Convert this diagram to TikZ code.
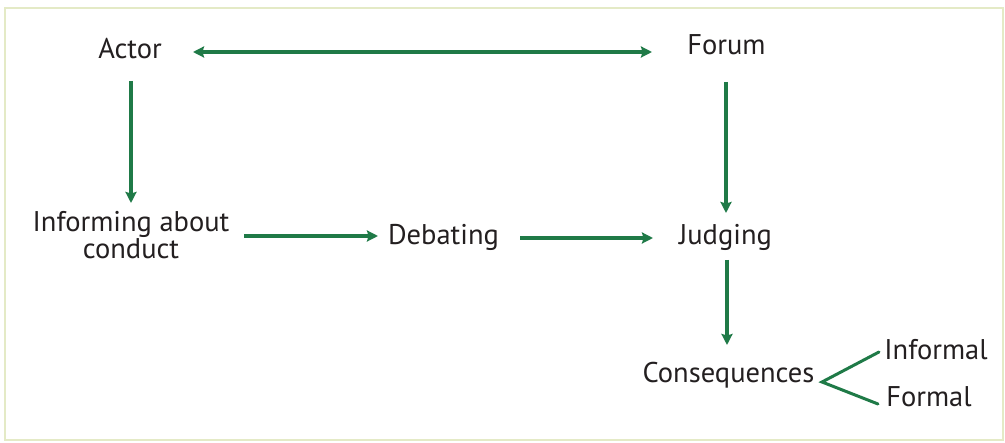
\documentclass[tikz,border=0pt]{standalone}
\usepackage{fontspec}
\setmainfont{PT Sans}
\usetikzlibrary{arrows.meta}
\definecolor{arrgreen}{HTML}{1F7A47}
\definecolor{txtcol}{HTML}{231F20}
\definecolor{framecol}{HTML}{E4EAC6}
\begin{document}
\begin{tikzpicture}[x=1pt,y=-1pt,
  lbl/.style={text=txtcol, font=\fontsize{28.5}{24.5}\selectfont, inner sep=0pt, align=center},
  tip/.style={},
  arr/.style={draw=arrgreen, line width=3.5pt, -{Stealth[length=11pt,width=11pt,inset=1.5pt]}},
  brn/.style={draw=arrgreen, line width=3pt, line cap=round}]
\useasboundingbox (0,0) rectangle (1005,443);
\fill[white] (0,0) rectangle (1005,443);
\draw[framecol, line width=2pt] (5,8) rectangle (1003,440);
\node[lbl, anchor=base] (actor) at (130,59) {Actor};
\node[lbl, anchor=base] (forum) at (726.5,55) {Forum};
\node[lbl] (inform) at (131,235) {Informing about\\conduct};
\node[lbl, anchor=base] (debating) at (443.5,245) {Debating};
\node[lbl, anchor=base] (judging) at (725.5,245) {Judging};
\node[lbl, anchor=base] (conseq) at (728.5,383) {Consequences};
\node[lbl, anchor=base] (informal) at (936,360) {Informal};
\node[lbl, anchor=base] (formal) at (929,407) {Formal};
\draw[arr, {Stealth[length=11pt,width=11pt,inset=1.5pt]}-{Stealth[length=11pt,width=11pt,inset=1.5pt]}]
  ([shift={(63,-7)}]actor.base) -- ([shift={(-74.5,-3)}]forum.base);
\draw[arr] ([shift={(1,22)}]actor.base) -- ([shift={(0,-32)}]inform.center);
\draw[arr] ([shift={(113,1)}]inform.center) -- ([shift={(-65.5,-9)}]debating.base);
\draw[arr] ([shift={(76.5,-7)}]debating.base) -- ([shift={(-72.5,-7)}]judging.base);
\draw[arr] ([shift={(-0.5,27)}]forum.base) -- ([shift={(0.5,-32)}]judging.base);
\draw[arr] ([shift={(1.5,15)}]judging.base) -- ([shift={(-1.5,-38)}]conseq.base);
\coordinate (fork) at ([shift={(93.5,-1)}]conseq.base);
\draw[brn] ([shift={(-57,-8)}]informal.base) -- (fork) -- ([shift={(-51,-3)}]formal.base);
\end{tikzpicture}
\end{document}
